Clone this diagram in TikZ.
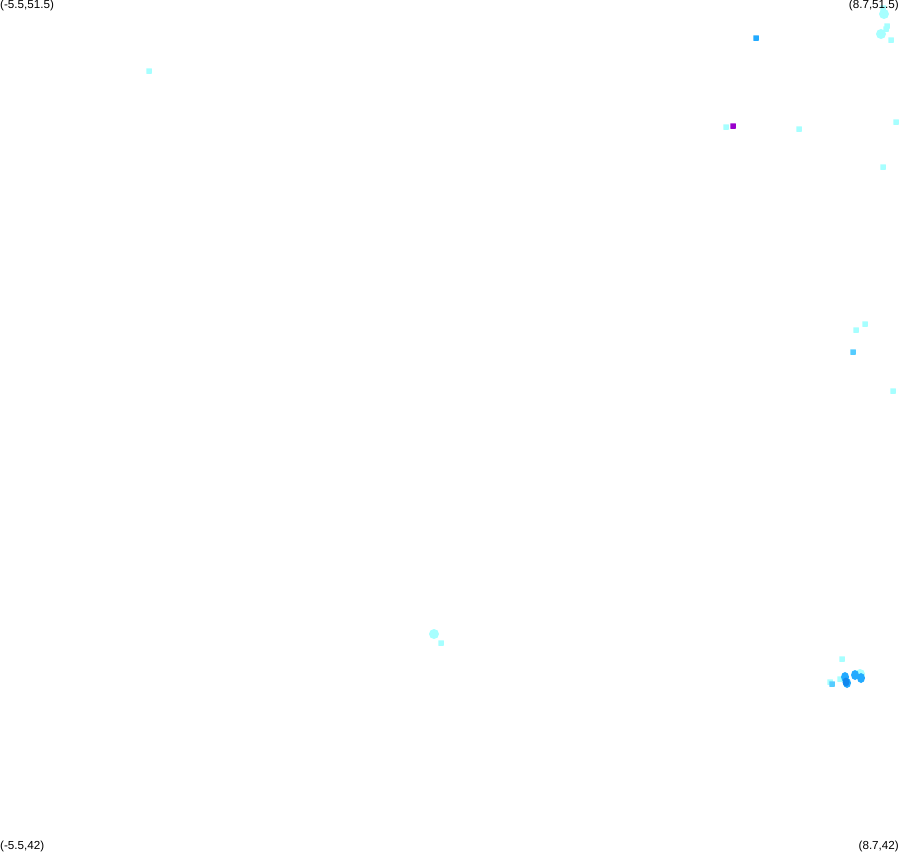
\documentclass[tikz,border=0pt]{standalone}
\usepackage{fontspec}
\setmainfont{Liberation Sans}
\usetikzlibrary{shapes.geometric}
\definecolor{paleHit}{HTML}{A6FFFF}
\definecolor{skyHit}{HTML}{55CCFF}
\definecolor{midHit}{HTML}{22AAFF}
\definecolor{deepHit}{HTML}{1188EE}
\definecolor{topHit}{HTML}{9900CC}
\tikzset{
  {base hit/.style} ={rectangle,inner sep=0,minimum size=5.5bp,rounded corners=0.3bp},
  {pale hit/.style} ={base hit,fill=paleHit},
  {sky hit/.style} ={base hit,fill=skyHit},
  {mid hit/.style} ={base hit,fill=midHit},
  {top hit/.style} ={base hit,fill=topHit},
  {base blob/.style} ={ellipse,inner sep=0,minimum width=10bp,minimum height=10bp},
  {pale blob/.style} ={base blob,fill=paleHit},
  {mid blob/.style} ={base blob,fill=midHit},
  {deep blob/.style} ={base blob,fill=deepHit,minimum width=7bp,minimum height=9bp},
  {corner/.style} ={inner sep=0,font=\fontsize{11.7}{11.7}\selectfont},
}
\begin{document}
\begin{tikzpicture}[x=1bp,y=-1bp]
\useasboundingbox (0,0) rectangle (899,852);
% single hits
\foreach \px/\py in {149/71,726/127,799/129,896/122,883/167,865/324,856/330,893/391,
  441/643,891/40,887/26,886/29,883/8,842/659,830/682,840/679}
  \node[pale hit] (p\px-\py) at (\px,\py) {};
% merged hits
\foreach \px/\py in {884/14,881/34,434/634,860/674}
  \node[pale blob] (b\px-\py) at (\px,\py) {};
\foreach \px/\py in {853/352,832/684}
  \node[sky hit] (s\px-\py) at (\px,\py) {};
\node[mid hit] (m756-38) at (756,38) {};
\foreach \px/\py in {861/678,845/677,847/683,855/675}
  \node[mid blob,minimum width=8bp] (c\px-\py) at (\px,\py) {};
\node[deep blob] (d846-682) at (846,682) {};
\node[top hit] (max) at (733,126) {};
% corner labels
\node[corner,anchor=north west] (tl) at (0,0) {(-5.5,51.5)};
\node[corner,anchor=north east] (tr) at (899,0) {(8.7,51.5)};
\node[corner,anchor=south west] (bl) at (0,852) {(-5.5,42)};
\node[corner,anchor=south east] (br) at (899,852) {(8.7,42)};
\end{tikzpicture}
\end{document}
